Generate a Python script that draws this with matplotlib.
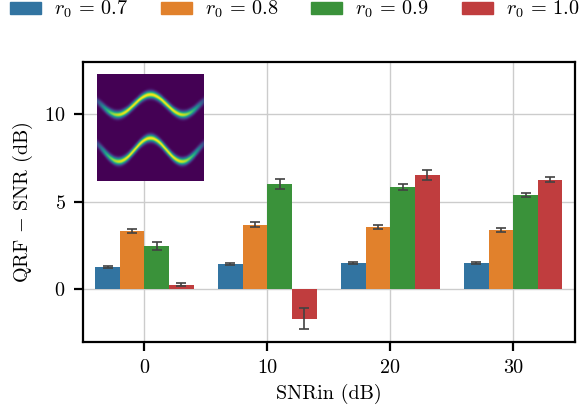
import numpy as np
import matplotlib
matplotlib.use("Agg")
import matplotlib.pyplot as plt
from matplotlib.patches import Patch

plt.rcParams['font.family'] = 'serif'
plt.rcParams['font.serif'] = ['cmr10']
plt.rcParams['mathtext.fontset'] = 'cm'
plt.rcParams['axes.unicode_minus'] = False
plt.rcParams['axes.formatter.use_mathtext'] = True

categories = ['0', '10', '20', '30']
series_labels = [r'$r_0\,=\,0.7$', r'$r_0\,=\,0.8$', r'$r_0\,=\,0.9$', r'$r_0\,=\,1.0$']
r07 = [1.29, 1.46, 1.51, 1.51]
r08 = [3.34, 3.69, 3.57, 3.40]
r09 = [2.49, 6.03, 5.86, 5.40]
r10 = [0.26, -1.67, 6.54, 6.26]
r07_err = [0.05, 0.04, 0.04, 0.05]
r08_err = [0.13, 0.14, 0.14, 0.13]
r09_err = [0.25, 0.29, 0.16, 0.14]
r10_err = [0.09, 0.59, 0.31, 0.14]

colors = ['#3274a1', '#e1812c', '#3a923a', '#c03d3e']
values = [r07, r08, r09, r10]
errors = [r07_err, r08_err, r09_err, r10_err]

fig = plt.figure(figsize=(5.8, 4.13), dpi=100)
ax = fig.add_axes([0.143, 0.172, 0.848, 0.678])

fs = 14.5
lfs = 14.6
x = np.arange(len(categories))
w = 0.2
for i, (v, e, c) in enumerate(zip(values, errors, colors)):
    pos = x - 0.3 + i * w
    ax.bar(pos, v, width=w, color=c, zorder=2)
    ax.errorbar(pos, v, yerr=e, fmt='none', ecolor='#424242', elinewidth=1.2,
                capsize=3.6, capthick=1.2, zorder=3)

ax.set_xlim(-0.5, 3.5)
ax.set_ylim(-3, 13)
ax.set_xticks(x)
ax.set_xticklabels(categories)
ax.set_yticks([0, 5, 10])
ax.grid(True, color='#cccccc', linewidth=1.0, zorder=0)
ax.set_axisbelow(True)
for s in ax.spines.values():
    s.set_linewidth(1.6)
    s.set_color('black')
ax.tick_params(labelsize=fs, width=1.6, length=6.5, pad=6)
ax.set_xlabel('SNRin (dB)', fontsize=fs, labelpad=5)
ax.set_ylabel(r'QRF $-$ SNR (dB)', fontsize=fs, labelpad=7)

handles = [Patch(color=c) for c in colors]
em = lfs * 100 / 72.0
fig.legend(handles, series_labels, loc='upper left', bbox_to_anchor=(10 / 580, 1 + 1 / 413),
           ncol=4, frameon=False, fontsize=lfs, handlelength=31 / em, handleheight=11 / em,
           handletextpad=13 / em, columnspacing=33 / em, borderpad=0, borderaxespad=0)

# inset image
iax = fig.add_axes([0.167, 0.562, 0.183, 0.259])
n = 120
xx, yy = np.meshgrid(np.linspace(0, 1, n), np.linspace(0, 1, n))
yu = 0.285 - 0.095 * np.cos(2 * np.pi * (xx - 0.5) / 0.62)
yl = 0.71 - 0.11 * np.cos(2 * np.pi * (xx - 0.5) / 0.60)
sig = 0.022
env = np.exp(-((xx - 0.5) / 0.47) ** 6)
img = env * (np.exp(-(yy - yu) ** 2 / (2 * sig ** 2)) + np.exp(-(yy - yl) ** 2 / (2 * sig ** 2)))
iax.imshow(img, cmap='viridis', aspect='auto', interpolation='bilinear')
iax.axis('off')

fig.savefig('out.png', dpi=100)
